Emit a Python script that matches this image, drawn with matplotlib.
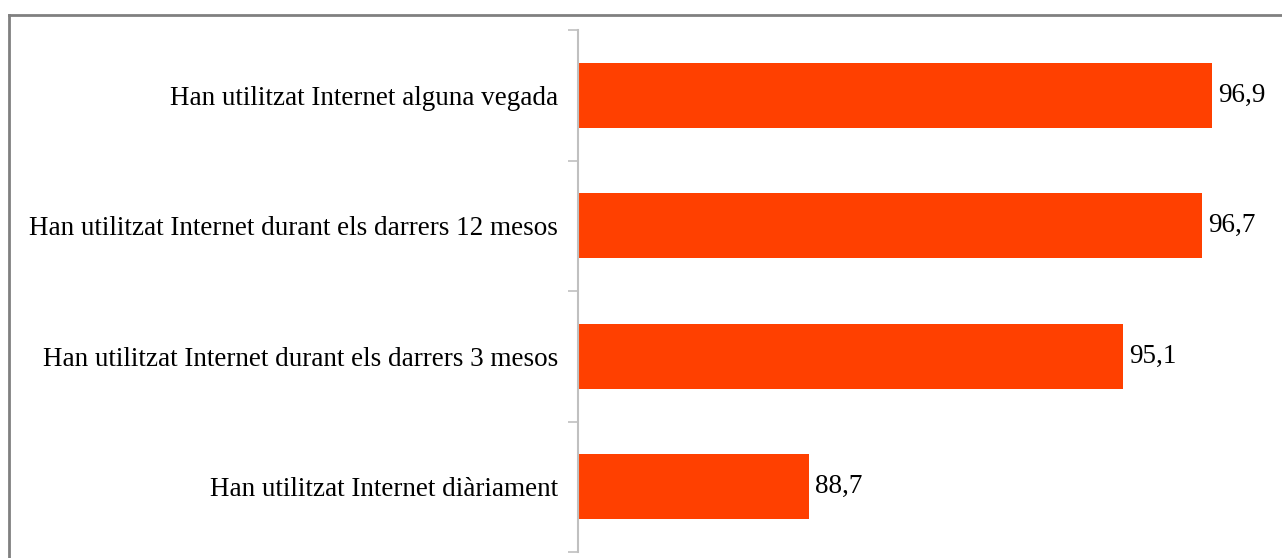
import matplotlib.pyplot as plt
from matplotlib.lines import Line2D

categories = [
    "Han utilitzat Internet alguna vegada",
    "Han utilitzat Internet durant els darrers 12 mesos",
    "Han utilitzat Internet durant els darrers 3 mesos",
    "Han utilitzat Internet diàriament",
]
values = [96.9, 96.7, 95.1, 88.7]

plt.rcParams['font.family'] = ['Liberation Serif', 'DejaVu Serif']

W, H = 1282, 558
fig = plt.figure(figsize=(W / 100, H / 100), dpi=100)
ax = fig.add_axes([578 / W, 1 - 552 / H, (1266 - 578) / W, (552 - 30) / H])

y = list(range(len(categories)))
ax.barh(y, [v - 84 for v in values], left=84, height=0.5, color='#ff4000')
for yi, v in zip(y, values):
    ax.text(v + 0.12, yi, f"{v:.1f}".replace('.', ','), va='center', ha='left',
            fontsize=19.5, color='black')

ax.set_xlim(84, 98)
ax.set_ylim(len(categories) - 0.5, -0.5)

ax.set_yticks(y)
ax.set_yticklabels(categories, fontsize=19.5)
ax.tick_params(axis='y', which='major', length=0, pad=14.4)
ax.set_yticks([i - 0.5 for i in range(len(categories) + 1)], minor=True)
ax.tick_params(axis='y', which='minor', length=7.5, width=1.2, color='#c0c0c0')
ax.set_xticks([])

for s in ['top', 'right', 'bottom']:
    ax.spines[s].set_visible(False)
ax.spines['left'].set_color('#c0c0c0')
ax.spines['left'].set_linewidth(1.5)

# outer frame (top and left edges visible)
fx, fy = 8.5 / W, 1 - 15 / H
fig.add_artist(Line2D([fx, 1], [fy, fy], transform=fig.transFigure, color='#808080', lw=2))
fig.add_artist(Line2D([fx, fx], [0, fy], transform=fig.transFigure, color='#808080', lw=2))

fig.savefig('out.png', dpi=100)
